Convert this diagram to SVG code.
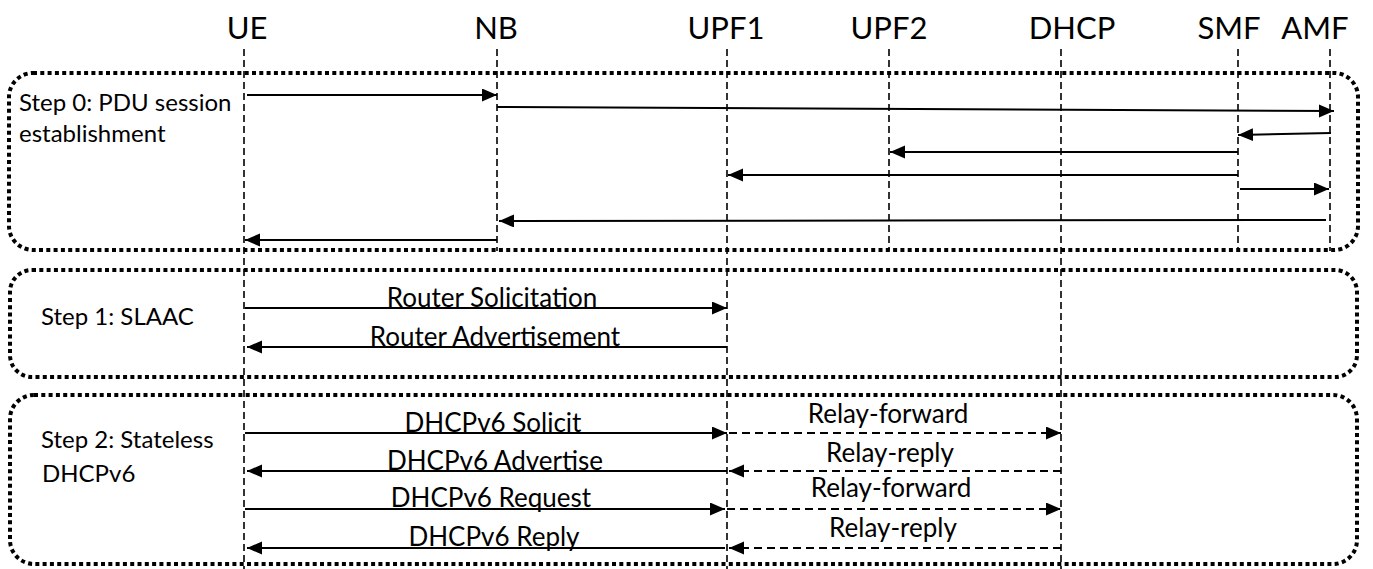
<svg xmlns="http://www.w3.org/2000/svg" width="1373" height="569" viewBox="0 0 1373 569">
<style>
text{font-family:Lato,"Liberation Sans",sans-serif;fill:#000}
.hd{font-size:31px;text-anchor:middle}
.lb{font-size:24px}
.msg{font-size:26px;text-anchor:middle}
.box{fill:none;stroke:#000;stroke-width:4;stroke-dasharray:4 3.3}
.life{stroke:#000;stroke-width:1.6;stroke-dasharray:7 4;fill:none}
.a{stroke:#000;stroke-width:2;fill:none;marker-end:url(#ah)}
.d{stroke:#000;stroke-width:2;fill:none;stroke-dasharray:8 5;marker-end:url(#ah)}
</style>
<defs>
<marker id="ah" markerUnits="userSpaceOnUse" markerWidth="16" markerHeight="14" refX="15" refY="6.5" orient="auto">
<path d="M0,0 L15,6.5 L0,13 Z" fill="#000"/>
</marker>
</defs>
<rect width="1373" height="569" fill="#fff"/>
<g id="step0">
<rect class="box" x="9" y="73" width="1349" height="177" rx="24"/>
<text class="lb" x="19" y="111">Step 0: PDU session</text>
<text class="lb" x="19" y="142">establishment</text>
</g>
<g id="step1">
<rect class="box" x="10" y="270" width="1347" height="107" rx="22"/>
<text class="lb" x="41" y="325">Step 1: SLAAC</text>
</g>
<g id="step2">
<rect class="box" x="10" y="395" width="1347" height="169" rx="24"/>
<text class="lb" x="41" y="448">Step 2: Stateless</text>
<text class="lb" x="42" y="482">DHCPv6</text>
</g>
<g id="UE"><text class="hd" x="247" y="39">UE</text><line class="life" x1="244" y1="49" x2="244" y2="569"/></g>
<g id="NB"><text class="hd" x="496" y="39">NB</text><line class="life" x1="497" y1="49" x2="497" y2="251"/></g>
<g id="UPF1"><text class="hd" x="726" y="39">UPF1</text><line class="life" x1="727" y1="49" x2="727" y2="569"/></g>
<g id="UPF2"><text class="hd" x="889" y="39">UPF2</text><line class="life" x1="889" y1="49" x2="889" y2="251"/></g>
<g id="DHCP"><text class="hd" x="1072" y="39">DHCP</text><line class="life" x1="1061" y1="49" x2="1061" y2="569"/></g>
<g id="SMF"><text class="hd" x="1229" y="39">SMF</text><line class="life" x1="1238" y1="49" x2="1238" y2="251"/></g>
<g id="AMF"><text class="hd" x="1315" y="39">AMF</text><line class="life" x1="1330" y1="49" x2="1330" y2="251"/></g>
<g id="connectors">
<line class="a" x1="247" y1="95" x2="497" y2="95"/>
<line class="a" x1="497" y1="107" x2="1334" y2="111"/>
<line class="a" x1="1331" y1="133" x2="1238" y2="135"/>
<line class="a" x1="1238" y1="152" x2="890" y2="152"/>
<line class="a" x1="1238" y1="175" x2="728" y2="175"/>
<line class="a" x1="1240" y1="189" x2="1329" y2="189"/>
<line class="a" x1="1326" y1="220" x2="499" y2="221"/>
<line class="a" x1="497" y1="240" x2="245" y2="240"/>
<line class="a" x1="245" y1="308" x2="727" y2="308"/>
<line class="a" x1="727" y1="347" x2="247" y2="347"/>
<line class="a" x1="245" y1="433" x2="727" y2="433"/>
<line class="d" x1="729" y1="433" x2="1061" y2="433"/>
<line class="a" x1="727" y1="471" x2="247" y2="471"/>
<line class="d" x1="1061" y1="471" x2="729" y2="471"/>
<line class="a" x1="245" y1="509" x2="725" y2="509"/>
<line class="d" x1="727" y1="509" x2="1061" y2="509"/>
<line class="a" x1="725" y1="548" x2="247" y2="548"/>
<line class="d" x1="1061" y1="548" x2="729" y2="548"/>
<text class="msg" x="492" y="307">Router Solicitation</text>
<text class="msg" x="495" y="346">Router Advertisement</text>
<text class="msg" x="493" y="432">DHCPv6 Solicit</text>
<text class="msg" x="888" y="423">Relay-forward</text>
<text class="msg" x="495" y="470">DHCPv6 Advertise</text>
<text class="msg" x="890" y="462">Relay-reply</text>
<text class="msg" x="491" y="507">DHCPv6 Request</text>
<text class="msg" x="891" y="497">Relay-forward</text>
<text class="msg" x="494" y="546">DHCPv6 Reply</text>
<text class="msg" x="893" y="537">Relay-reply</text>
</g>
</svg>
